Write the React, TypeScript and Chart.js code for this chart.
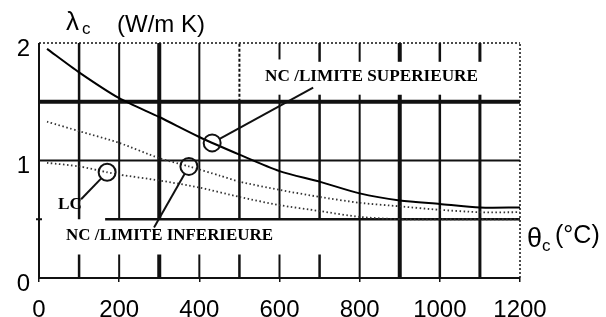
import React, { useEffect, useRef } from "react";
import { Chart, registerables } from "chart.js";

Chart.register(...registerables);

// ---------------- DATA ----------------
const TEMP_NC_UPPER = [20, 100, 200, 300, 400, 500, 600, 700, 800, 900, 1000, 1100, 1200];
const NC_UPPER = [1.95, 1.75, 1.53, 1.37, 1.2, 1.05, 0.91, 0.82, 0.72, 0.66, 0.63, 0.6, 0.6];

const TEMP_NC_LOWER = [20, 100, 200, 300, 374, 452, 500, 600, 700, 800, 900, 1000, 1100, 1200];
const NC_LOWER = [1.33, 1.25, 1.15, 1.02, 0.95, 0.87, 0.82, 0.75, 0.69, 0.64, 0.61, 0.58, 0.56, 0.56];

const TEMP_LC = [20, 100, 170, 200, 300, 400, 500, 600, 700, 800, 900, 1000, 1100, 1200];
const LC = [0.98, 0.95, 0.9, 0.88, 0.83, 0.77, 0.69, 0.62, 0.57, 0.52, 0.5, 0.5, 0.5, 0.5];

const X_TICKS = [0, 200, 400, 600, 800, 1000, 1200];
const Y_TICKS = [0, 1, 2];

const LABEL_NC_UPPER = "NC /LIMITE SUPERIEURE";
const LABEL_NC_LOWER = "NC /LIMITE INFERIEURE";
const LABEL_LC = "LC";
const Y_TITLE_SYMBOL = "λ";
const Y_TITLE_SUB = "c";
const Y_TITLE_UNIT = "(W/m K)";
const X_TITLE_SYMBOL = "θ";
const X_TITLE_SUB = "c";
const X_TITLE_UNIT = "(°C)";

// ---------------- LAYOUT / STYLE ----------------
const SANS = "'Liberation Sans', Arial, sans-serif";
const SERIF = "'Liberation Serif', 'Times New Roman', serif";
const INK = "#111";

// Horizontal grid lines (value coords)
const H_LINES = [
  { y: 2, from: 0, to: 1200, w: 1.5, dash: [2, 2] },
  { y: 1.5, from: 0, to: 1200, w: 4, dash: [] },
  { y: 1, from: 0, to: 1200, w: 2, dash: [] },
  { y: 0.5, from: 165, to: 1200, w: 2.5, dash: [] },
  { y: 0, from: 0, to: 1200, w: 2, dash: [] },
];

// Vertical grid segments (value coords)
const V_LINES = [
  { x: 0, w: 2, segs: [[0, 2]], dash: [] },
  { x: 100, w: 2.5, segs: [[0, 0.2], [0.5, 2]], dash: [] },
  { x: 200, w: 2, segs: [[0, 0.2], [0.5, 2]], dash: [] },
  { x: 300, w: 4, segs: [[0, 0.2], [0.5, 2]], dash: [] },
  { x: 400, w: 2, segs: [[0, 0.2], [0.5, 2]], dash: [] },
  { x: 500, w: 2.5, segs: [[0, 0.2], [0.5, 1.5]], dash: [] },
  { x: 500, w: 2, segs: [[1.5, 2]], dash: [3, 2] },
  { x: 600, w: 2, segs: [[0, 0.2], [0.5, 1.56], [1.86, 2]], dash: [] },
  { x: 700, w: 2.5, segs: [[0, 0.2], [0.5, 1.56], [1.84, 2]], dash: [] },
  { x: 800, w: 2, segs: [[0, 1.56], [1.84, 2]], dash: [] },
  { x: 900, w: 4, segs: [[0, 1.56], [1.84, 2]], dash: [] },
  { x: 1000, w: 2.5, segs: [[0, 1.56], [1.84, 2]], dash: [] },
  { x: 1100, w: 3, segs: [[0, 1.56], [1.84, 2]], dash: [] },
  { x: 1200, w: 1.5, segs: [[0, 2]], dash: [2, 2] },
];

// Marker circles and leader lines (value coords)
const CALLOUTS = [
  { cx: 432, cy: 1.15, lx: 684, ly: 1.62 },
  { cx: 374, cy: 0.95, lx: 287, ly: 0.43 },
  { cx: 170, cy: 0.9, lx: 105, ly: 0.67 },
];
const CIRCLE_R = 8.5;

// Text labels (pixel layout)
const TEXTS = [
  { text: LABEL_NC_UPPER, x: 265, y: 77, w: 213 },
  { text: LABEL_NC_LOWER, x: 66, y: 236, w: 207 },
  { text: LABEL_LC, x: 58, y: 205, w: 24 },
];

function drawFit(ctx: CanvasRenderingContext2D, text: string, x: number, y: number, w: number) {
  ctx.save();
  ctx.font = `bold 17px ${SERIF}`;
  ctx.textBaseline = "middle";
  ctx.textAlign = "left";
  const m = ctx.measureText(text).width;
  ctx.translate(x, y);
  ctx.scale(w / m, 1);
  ctx.fillStyle = "#000";
  ctx.fillText(text, 0, 0);
  ctx.restore();
}

const gridPlugin = {
  id: "scanGrid",
  beforeDatasetsDraw(chart: any) {
    const ctx = chart.ctx as CanvasRenderingContext2D;
    const xs = chart.scales.x;
    const ys = chart.scales.y;
    ctx.save();
    ctx.strokeStyle = INK;
    ctx.lineCap = "butt";
    for (const h of H_LINES) {
      ctx.lineWidth = h.w;
      ctx.setLineDash(h.dash);
      const py = ys.getPixelForValue(h.y);
      ctx.beginPath();
      ctx.moveTo(xs.getPixelForValue(h.from), py);
      ctx.lineTo(xs.getPixelForValue(h.to), py);
      ctx.stroke();
    }
    for (const v of V_LINES) {
      ctx.lineWidth = v.w;
      ctx.setLineDash(v.dash);
      const px = xs.getPixelForValue(v.x);
      for (const [a, b] of v.segs) {
        ctx.beginPath();
        ctx.moveTo(px, ys.getPixelForValue(a));
        ctx.lineTo(px, ys.getPixelForValue(b));
        ctx.stroke();
      }
    }
    // small tick on left axis at 0.5
    ctx.setLineDash([]);
    ctx.lineWidth = 2;
    const p05 = ys.getPixelForValue(0.5);
    const p0 = xs.getPixelForValue(0);
    ctx.beginPath();
    ctx.moveTo(p0 - 3, p05);
    ctx.lineTo(p0 + 3, p05);
    ctx.stroke();
    ctx.restore();
  },
  afterDatasetsDraw(chart: any) {
    const ctx = chart.ctx as CanvasRenderingContext2D;
    const xs = chart.scales.x;
    const ys = chart.scales.y;
    ctx.save();
    ctx.strokeStyle = INK;
    ctx.lineWidth = 2;
    ctx.setLineDash([]);
    for (const c of CALLOUTS) {
      const cx = xs.getPixelForValue(c.cx);
      const cy = ys.getPixelForValue(c.cy);
      const lx = xs.getPixelForValue(c.lx);
      const ly = ys.getPixelForValue(c.ly);
      ctx.beginPath();
      ctx.arc(cx, cy, CIRCLE_R, 0, Math.PI * 2);
      ctx.stroke();
      const dx = lx - cx;
      const dy = ly - cy;
      const d = Math.hypot(dx, dy);
      ctx.beginPath();
      ctx.moveTo(cx + (dx / d) * CIRCLE_R, cy + (dy / d) * CIRCLE_R);
      ctx.lineTo(lx, ly);
      ctx.stroke();
    }
    ctx.restore();
    for (const t of TEXTS) drawFit(ctx, t.text, t.x, t.y, t.w);

    // axis titles
    ctx.save();
    ctx.fillStyle = "#000";
    ctx.textBaseline = "alphabetic";
    ctx.textAlign = "left";
    ctx.font = `26px ${SANS}`;
    ctx.fillText(Y_TITLE_SYMBOL, 66, 30);
    ctx.font = `17px ${SANS}`;
    ctx.fillText(Y_TITLE_SUB, 82, 34);
    ctx.font = `24px ${SANS}`;
    ctx.fillText(Y_TITLE_UNIT, 117, 32);

    ctx.font = `27px ${SANS}`;
    ctx.fillText(X_TITLE_SYMBOL, 527, 247);
    ctx.font = `17px ${SANS}`;
    ctx.fillText(X_TITLE_SUB, 542, 251);
    ctx.font = `25px ${SANS}`;
    ctx.fillText(X_TITLE_UNIT, 555, 243);
    ctx.restore();
  },
};

function pts(xs: number[], ys: number[]) {
  return xs.map((x, i) => ({ x, y: ys[i] }));
}

export default function App() {
  const ref = useRef<HTMLCanvasElement | null>(null);
  useEffect(() => {
    if (!ref.current) return;
    const chart = new Chart(ref.current, {
      type: "line",
      data: {
        datasets: [
          {
            label: LABEL_NC_UPPER,
            data: pts(TEMP_NC_UPPER, NC_UPPER),
            borderColor: "#000",
            borderWidth: 2,
            pointRadius: 0,
            tension: 0.25,
            fill: false,
          },
          {
            label: LABEL_NC_LOWER,
            data: pts(TEMP_NC_LOWER, NC_LOWER),
            borderColor: "#333",
            borderWidth: 1.8,
            borderDash: [1.5, 2.5],
            pointRadius: 0,
            tension: 0.25,
            fill: false,
          },
          {
            label: LABEL_LC,
            data: pts(TEMP_LC, LC),
            borderColor: "#333",
            borderWidth: 1.8,
            borderDash: [1.5, 2.5],
            pointRadius: 0,
            tension: 0.25,
            fill: false,
          },
        ],
      },
      options: {
        responsive: false,
        animation: false,
        layout: { padding: { top: 43, right: 86, left: 0, bottom: 0 } },
        plugins: { legend: { display: false }, tooltip: { enabled: false } },
        scales: {
          x: {
            type: "linear",
            min: 0,
            max: 1200,
            afterBuildTicks: (s: any) => {
              s.ticks = X_TICKS.map((v) => ({ value: v }));
            },
            afterFit: (s: any) => {
              s.height = 39;
            },
            grid: { drawOnChartArea: false, drawTicks: true, tickLength: 4, color: INK, lineWidth: 1.5 },
            border: { display: false },
            ticks: {
              font: { family: SANS, size: 24 },
              color: "#000",
              padding: 14,
              maxRotation: 0,
              autoSkip: false,
              callback: (v: any) => String(v),
            },
          },
          y: {
            type: "linear",
            min: 0,
            max: 2,
            afterBuildTicks: (s: any) => {
              s.ticks = Y_TICKS.map((v) => ({ value: v }));
            },
            afterFit: (s: any) => {
              s.width = 39;
            },
            grid: { display: false, drawTicks: false },
            border: { display: false },
            ticks: {
              font: { family: SANS, size: 24 },
              color: "#000",
              padding: 9,
              labelOffset: 6,
              callback: (v: any) => String(v),
            },
          },
        },
      },
      plugins: [gridPlugin],
    });
    return () => chart.destroy();
  }, []);
  return (
    <div style={{ position: "fixed", left: 0, top: 0, width: 606, height: 317, background: "#fff" }}>
      <canvas ref={ref} width={606} height={317} style={{ display: "block" }} />
    </div>
  );
}
